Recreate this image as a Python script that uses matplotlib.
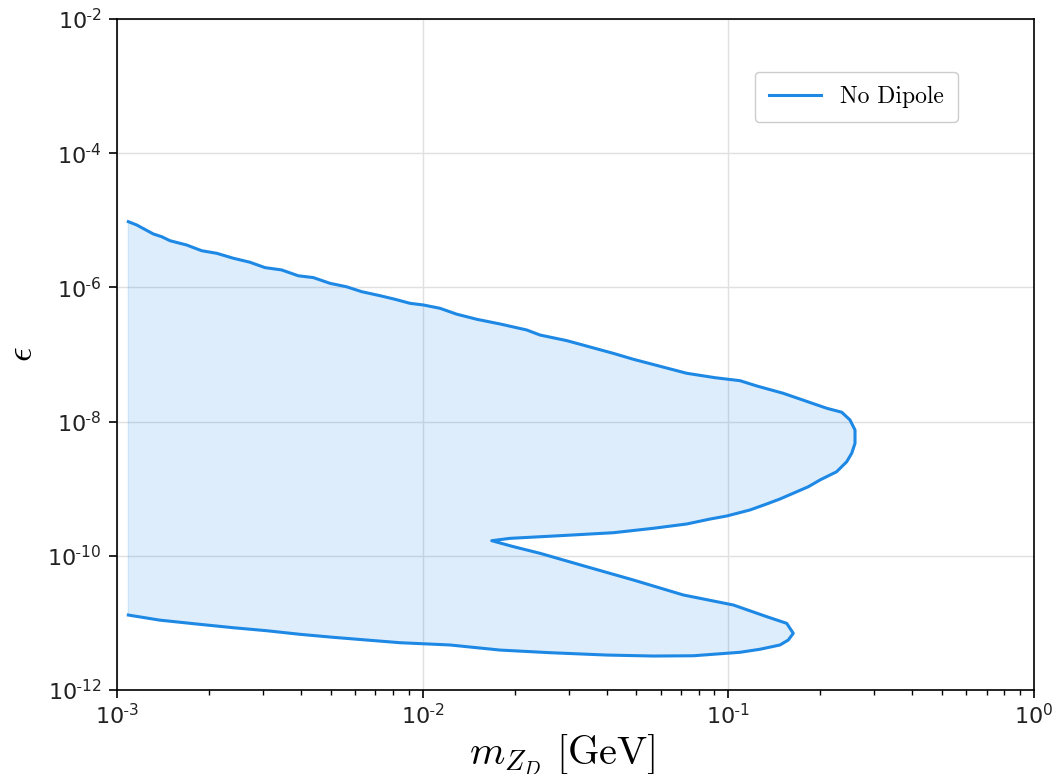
# exclusion contour, no dipole case

import math
import matplotlib
matplotlib.use("Agg")
import matplotlib.pyplot as plt
from matplotlib.ticker import FuncFormatter, LogLocator, NullLocator

plt.rcParams['mathtext.fontset'] = 'cm'
plt.rcParams['axes.unicode_minus'] = False

# contour, traced from upper left, round the nose, into the notch and back along the bottom
mass = [1.089e-3, 1.160e-3, 1.315e-3, 1.400e-3, 1.491e-3, 1.690e-3, 1.892e-3, 2.120e-3,
        2.401e-3, 2.722e-3, 3.049e-3, 3.457e-3, 3.917e-3, 4.387e-3, 4.974e-3, 5.641e-3,
        6.318e-3, 7.251e-3, 8.118e-3, 9.09e-3, 1.005e-2, 1.139e-2, 1.292e-2, 1.502e-2,
        1.791e-2, 2.189e-2, 2.421e-2, 2.959e-2, 4.205e-2, 4.888e-2, 7.309e-2, 9.05e-2,
        0.1092, 0.1238, 0.1513, 0.2099, 0.2349, 0.2500, 0.2597, 0.2597,
        0.2533, 0.2439, 0.2261, 0.1995, 0.1827, 0.1476, 0.1335, 0.1177,
        9.88e-2, 8.71e-2, 7.31e-2, 5.68e-2, 4.21e-2, 2.96e-2, 1.93e-2, 1.682e-2,
        1.98e-2, 2.42e-2, 3.44e-2, 4.89e-2, 7.12e-2, 0.1038, 0.1335, 0.1552,
        0.1631, 0.1571, 0.1476, 0.1269, 0.1092, 7.68e-2, 5.68e-2, 4.00e-2,
        2.61e-2, 1.79e-2, 1.229e-2, 8.43e-3, 6.56e-3, 5.10e-3, 3.97e-3, 3.09e-3,
        2.40e-3, 1.82e-3, 1.38e-3, 1.089e-3]
eps = [9.53e-6, 8.51e-6, 6.25e-6, 5.69e-6, 4.96e-6, 4.28e-6, 3.52e-6, 3.22e-6,
       2.72e-6, 2.37e-6, 1.97e-6, 1.82e-6, 1.49e-6, 1.40e-6, 1.15e-6, 1.02e-6,
       8.63e-7, 7.52e-7, 6.65e-7, 5.79e-7, 5.47e-7, 4.88e-7, 3.99e-7, 3.35e-7,
       2.85e-7, 2.32e-7, 1.95e-7, 1.61e-7, 1.04e-7, 8.49e-8, 5.25e-8, 4.51e-8,
       4.07e-8, 3.40e-8, 2.64e-8, 1.58e-8, 1.38e-8, 1.06e-8, 7.50e-9, 4.75e-9,
       3.37e-9, 2.52e-9, 1.79e-9, 1.35e-9, 1.07e-9, 7.03e-10, 5.92e-10, 4.82e-10,
       3.92e-10, 3.53e-10, 2.98e-10, 2.57e-10, 2.21e-10, 2.02e-10, 1.82e-10, 1.68e-10,
       1.37e-10, 1.09e-10, 6.88e-11, 4.36e-11, 2.61e-11, 1.85e-11, 1.24e-11, 9.86e-12,
       7.00e-12, 5.56e-12, 4.69e-12, 4.05e-12, 3.65e-12, 3.24e-12, 3.21e-12, 3.32e-12,
       3.60e-12, 3.94e-12, 4.69e-12, 5.07e-12, 5.56e-12, 6.10e-12, 6.76e-12, 7.65e-12,
       8.48e-12, 9.64e-12, 1.10e-11, 1.31e-11]

label = "No Dipole"
color = '#1E88E5'


def power_label(v, pos):
    e = int(round(math.log10(v)))
    if e < 0:
        return r'$\mathregular{10^{\text{-}%d}}$' % (-e)
    return r'$\mathregular{10^{%d}}$' % e


figure = plt.figure(figsize=(10.58, 7.74), dpi=100)
ax = figure.add_axes([0.1106, 0.1085, 0.8667, 0.867])

ax.fill(mass, eps, color=color, alpha=0.15, lw=1)
ax.plot(mass, eps, color=color, lw=2.2, label=label)

ax.set_xscale('log')
ax.set_yscale('log')
ax.set_xlim(1e-3, 1)
ax.set_ylim(1e-12, 1e-2)

ax.yaxis.set_major_locator(LogLocator(base=100.0))
ax.yaxis.set_minor_locator(NullLocator())
ax.xaxis.set_major_formatter(FuncFormatter(power_label))
ax.yaxis.set_major_formatter(FuncFormatter(power_label))
ax.tick_params(axis='both', which='major', labelsize=16, length=6, width=1.2,
               labelcolor='#222222')
ax.tick_params(axis='y', which='major', pad=5)
ax.tick_params(axis='x', which='minor', length=3.5, width=1)

for s in ax.spines.values():
    s.set_linewidth(1.2)

ax.grid(True, which='major', color='#e0e0e0', lw=1)
ax.set_axisbelow(True)

ax.set_xlabel(r'$m_{Z_D}\ [\mathrm{GeV}]$', fontsize=29)
ax.xaxis.set_label_coords(0.486, -0.063)
ax.set_ylabel(r'$\epsilon$', fontsize=26, labelpad=6)

ax.legend(loc='center', bbox_to_anchor=(0.806, 0.884), prop={'family': 'cmr10', 'size': 17},
          frameon=True, fancybox=True, edgecolor='#cccccc', framealpha=1,
          borderpad=0.6, handlelength=2.2)

figure.savefig('out.png', dpi=100)
